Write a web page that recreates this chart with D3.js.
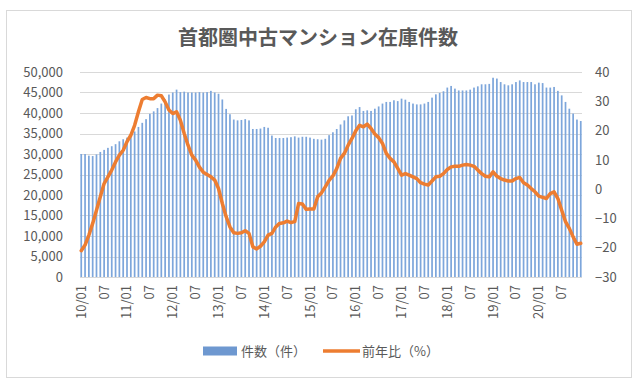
<!DOCTYPE html>
<html>
<head>
<meta charset="utf-8">
<script src="https://cdn.jsdelivr.net/npm/d3@7"></script>
<style>
  body { margin: 0; background: #fff; }
  svg { display: block; }
  text { font-family: "Noto Sans CJK JP", "Noto Sans", sans-serif; fill: #595959; }
</style>
</head>
<body>
<svg id="chart" width="640" height="388"></svg>
<script>
// 2010/01 .. 2020/12, monthly
const years = ["10", "11", "12", "13", "14", "15", "16", "17", "18", "19", "20"];
const months = [];
years.forEach(y => {
  for (let m = 1; m <= 12; m++) months.push(y + "/" + String(m).padStart(2, "0"));
});

// 件数（件）
const stock = [
  30000, 30000, 29600, 29500, 29900, 30500, 31000, 31500, 31900, 32400, 33100, 33600,
  34000, 34800, 35500, 36600, 37600, 38500, 39800, 40400, 41200, 42300, 43300, 44500,
  45000, 45700, 45100, 45200, 45000, 45000, 45000, 45100, 45000, 45100, 45400, 45000,
  44700, 43300, 41000, 39700, 38400, 38200, 38300, 38500, 38200, 36100, 36100, 36200,
  36600, 36400, 34500, 33900, 33900, 33900, 34000, 34100, 34300, 34000, 34200, 34200,
  34000, 33700, 33600, 33500, 33700, 34600, 35300, 36100, 37200, 38200, 39200, 39400,
  40900, 41450, 40500, 40650, 40500, 41050, 41600, 42300, 42700, 42700, 43100, 42900,
  43500, 43250, 42700, 42300, 42100, 42100, 42300, 42700, 43750, 44550, 44900, 45300,
  46200, 46600, 45950, 45500, 45500, 45500, 45700, 46200, 46500, 47000, 47000, 47100,
  48600, 48400, 47550, 47000, 46750, 47000, 47550, 47950, 47550, 47550, 47550, 47000,
  47400, 47300, 46200, 46200, 46350, 45400, 44300, 42700, 41050, 39850, 38400, 38050
];

// 前年比（%）
const yoy = [
  -21, -19.1, -15.7, -11.7, -7.2, -2.6, 1.9, 4.2, 6.5, 9.3, 11.6, 13.3,
  16.2, 18.4, 21.8, 26.4, 30.6, 31.3, 30.9, 30.9, 32.1, 31.9, 29.8, 27,
  25.8, 26.4, 23.5, 19, 15, 11.6, 9.9, 7.5, 5.8, 5, 4.2, 3.1,
  0.2, -4.9, -9.4, -12.9, -14.9, -15.1, -14.9, -14.2, -15.1, -19.7, -20.4, -19.5,
  -18, -15.7, -15.1, -12.9, -11.7, -11.5, -10.9, -11.4, -11.1, -4.9, -5.1, -6.9,
  -6.8, -6.8, -2.6, -1.3, 0.8, 3, 4.5, 7, 10.5, 12.2, 15, 17.3,
  19.9, 21.8, 21.3, 22.2, 20.7, 18.8, 17.6, 15.6, 12.2, 10.5, 9.3, 7.1,
  4.8, 5.3, 4.8, 4.2, 3.6, 2.2, 1.7, 1.4, 2.8, 4.2, 4.4, 5.3,
  6.7, 7.6, 7.8, 7.8, 8.2, 8.4, 8.2, 7.8, 6.5, 5.3, 4.4, 4.2,
  5.9, 4.4, 3.6, 3.1, 2.8, 2.8, 3.6, 4.0, 2.2, 1.4, 0.2, -0.9,
  -2.4, -2.8, -3.2, -1.5, -0.9, -3.2, -7.2, -11.1, -13.4, -16.3, -18.8, -18.5
];

const leftTicks = d3.range(0, 50001, 5000);
const rightTicks = [-30, -20, -10, 0, 10, 20, 30, 40];
const title = "首都圏中古マンション在庫件数";
const seriesNames = ["件数（件）", "前年比（%）"];

const W = 640, H = 388;
const plot = { left: 80, right: 582, top: 72, bottom: 277 };
const barColor = "#7DA6DB";
const lineColor = "#ED7D31";

const svg = d3.select("#chart");

svg.append("rect")
  .attr("x", 6.5).attr("y", 10.5)
  .attr("width", 625).attr("height", 367)
  .attr("fill", "#fff").attr("stroke", "#D9D9D9");

svg.append("text")
  .attr("x", 318).attr("y", 45)
  .attr("text-anchor", "middle")
  .attr("font-size", 20)
  .attr("font-weight", "bold")
  .text(title);

const x = d3.scaleBand()
  .domain(months)
  .range([plot.left, plot.right])
  .paddingInner(0.55)
  .paddingOuter(0.1);

const yL = d3.scaleLinear().domain([0, 50000]).range([plot.bottom, plot.top]);
const yR = d3.scaleLinear().domain([-30, 40]).range([plot.bottom, plot.top]);

// gridlines
svg.append("g")
  .selectAll("line")
  .data(leftTicks)
  .join("line")
  .attr("x1", plot.left).attr("x2", plot.right)
  .attr("y1", d => Math.round(yL(d)) + 0.5)
  .attr("y2", d => Math.round(yL(d)) + 0.5)
  .attr("stroke", "#D9D9D9");

// left axis
const axL = svg.append("g")
  .attr("transform", `translate(${plot.left},0)`)
  .call(d3.axisLeft(yL).tickValues(leftTicks).tickFormat(d3.format(",")).tickSize(0).tickPadding(17));
axL.select(".domain").remove();
axL.selectAll("text").attr("font-size", 13).attr("fill", "#595959")
  .attr("font-family", "'Noto Sans CJK JP', sans-serif");

// right axis
const axR = svg.append("g")
  .attr("transform", `translate(${plot.right},0)`)
  .call(d3.axisRight(yR).tickValues(rightTicks).tickSize(0).tickPadding(13));
axR.select(".domain").remove();
axR.selectAll("text").attr("font-size", 13)
  .attr("font-family", "'Noto Sans CJK JP', sans-serif")
  .attr("fill", d => d < 0 ? "#FF0000" : "#595959");

// bars
svg.append("g")
  .selectAll("rect")
  .data(stock)
  .join("rect")
  .attr("x", (d, i) => x(months[i]))
  .attr("y", d => yL(d))
  .attr("width", x.bandwidth())
  .attr("height", d => yL(0) - yL(d))
  .attr("fill", barColor);

// x labels (every 6 months)
const xLabels = svg.append("g");
months.forEach((m, i) => {
  if (i % 6 !== 0) return;
  const label = m.endsWith("/01") ? m : "07";
  const cx = x(m) + x.bandwidth() / 2;
  xLabels.append("text")
    .attr("transform", `translate(${cx + 4.5},285) rotate(-90)`)
    .attr("text-anchor", "end")
    .attr("font-size", 13)
    .text(label);
});

// line
const line = d3.line()
  .x((d, i) => x(months[i]) + x.bandwidth() / 2)
  .y(d => yR(d))
  .curve(d3.curveLinear);

svg.append("path")
  .datum(yoy)
  .attr("d", line)
  .attr("fill", "none")
  .attr("stroke", lineColor)
  .attr("stroke-width", 3.5)
  .attr("stroke-linejoin", "round")
  .attr("stroke-linecap", "round");

// legend
const lg = svg.append("g").attr("transform", "translate(0,351)");
lg.append("rect").attr("x", 203).attr("y", -4.5).attr("width", 34).attr("height", 9).attr("fill", "#6E98D0");
lg.append("text").attr("x", 241).attr("y", 5).attr("font-size", 13).text(seriesNames[0]);
lg.append("line").attr("x1", 323).attr("x2", 360).attr("y1", 0).attr("y2", 0)
  .attr("stroke", lineColor).attr("stroke-width", 3.5);
lg.append("text").attr("x", 362).attr("y", 5).attr("font-size", 13).text(seriesNames[1]);
</script>
</body>
</html>
